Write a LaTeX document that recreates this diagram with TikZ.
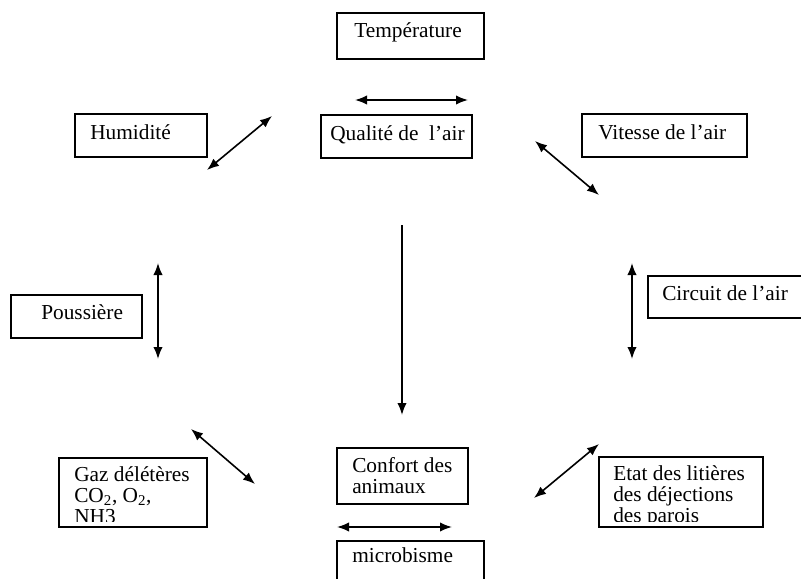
\documentclass[tikz,border=0pt]{standalone}
\usepackage{fontspec}
\setmainfont{Liberation Serif}
\usetikzlibrary{arrows.meta,fit}
\begin{document}
\begin{tikzpicture}[x=0.75pt,y=-0.75pt,
  box/.style={draw, line width=1.2pt, inner sep=0pt},
  lbl/.style={anchor=base west, inner sep=0pt, font=\fontsize{16}{16}\selectfont},
  dbl/.style={line width=1.2pt, {Latex[length=9pt,width=7pt]}-{Latex[length=9pt,width=7pt]}},
  sgl/.style={line width=1.2pt, -{Latex[length=9pt,width=7pt]}}]
\clip (0,0) rectangle (801,579);
\fill[white] (0,0) rectangle (801,579);
% boxes
\node[box, fit={(337,13) (484,59)}] (temp) {};
\node[box, fit={(321,115) (472,158)}] (qual) {};
\node[box, fit={(75,114) (207,157)}] (humi) {};
\node[box, fit={(582,114) (747,157)}] (vit) {};
\node[box, fit={(11,295) (142,338)}] (pous) {};
\node[box, fit={(648,276) (806,318)}] (circ) {};
\node[box, fit={(59,458) (207,527)}] (gaz) {};
\node[box, fit={(337,448) (468,504)}] (conf) {};
\node[box, fit={(337,541) (484,585)}] (micro) {};
\node[box, fit={(599,457) (763,527)}] (etat) {};
% labels
\node[lbl] (tT) at (354,37) {Température};
\node[lbl] (tQ) at (330,140) {Qualité de \ l’air};
\node[lbl] (tH) at (90,139) {Humidité};
\node[lbl] (tV) at (598,139) {Vitesse de l’air};
\node[lbl] (tP) at (41,319) {Poussière};
\node[lbl] (tC) at (662,300) {Circuit de l’air};
\node[lbl] (tCa) at (352,472) {Confort des};
\node[lbl] (tCb) at (352,493) {animaux};
\node[lbl] (tM) at (352,562) {microbisme};
\begin{scope}
\clip (59,458) rectangle (207,521);
\node[lbl] (tGa) at (74,481) {Gaz délétères};
\node[lbl] (tGb) at (74,502) {CO\textsubscript{2}, O\textsubscript{2},};
\node[lbl] (tGc) at (74,523) {NH3};
\end{scope}
\begin{scope}
\clip (599,457) rectangle (763,521);
\node[lbl] (tEa) at (613,480) {Etat des litières};
\node[lbl] (tEb) at (613,501) {des déjections};
\node[lbl] (tEc) at (613,522) {des parois};
\end{scope}
% arrow end points
\coordinate (a1) at (355,100); \coordinate (a2) at (468,100);
\coordinate (b1) at (207,170); \coordinate (b2) at (272,116);
\coordinate (c1) at (535,141); \coordinate (c2) at (599,195);
\coordinate (d1) at (158,263); \coordinate (d2) at (158,359);
\coordinate (e1) at (632,263); \coordinate (e2) at (632,359);
\coordinate (f1) at (402,225); \coordinate (f2) at (402,415);
\coordinate (g1) at (191,429); \coordinate (g2) at (255,484);
\coordinate (h1) at (534,498); \coordinate (h2) at (599,444);
\coordinate (i1) at (337,527); \coordinate (i2) at (452,527);
\draw[dbl] (a1) -- (a2);
\draw[dbl] (b1) -- (b2);
\draw[dbl] (c1) -- (c2);
\draw[dbl] (d1) -- (d2);
\draw[dbl] (e1) -- (e2);
\draw[sgl] (f1) -- (f2);
\draw[dbl] (g1) -- (g2);
\draw[dbl] (h1) -- (h2);
\draw[dbl] (i1) -- (i2);
\end{tikzpicture}
\end{document}
